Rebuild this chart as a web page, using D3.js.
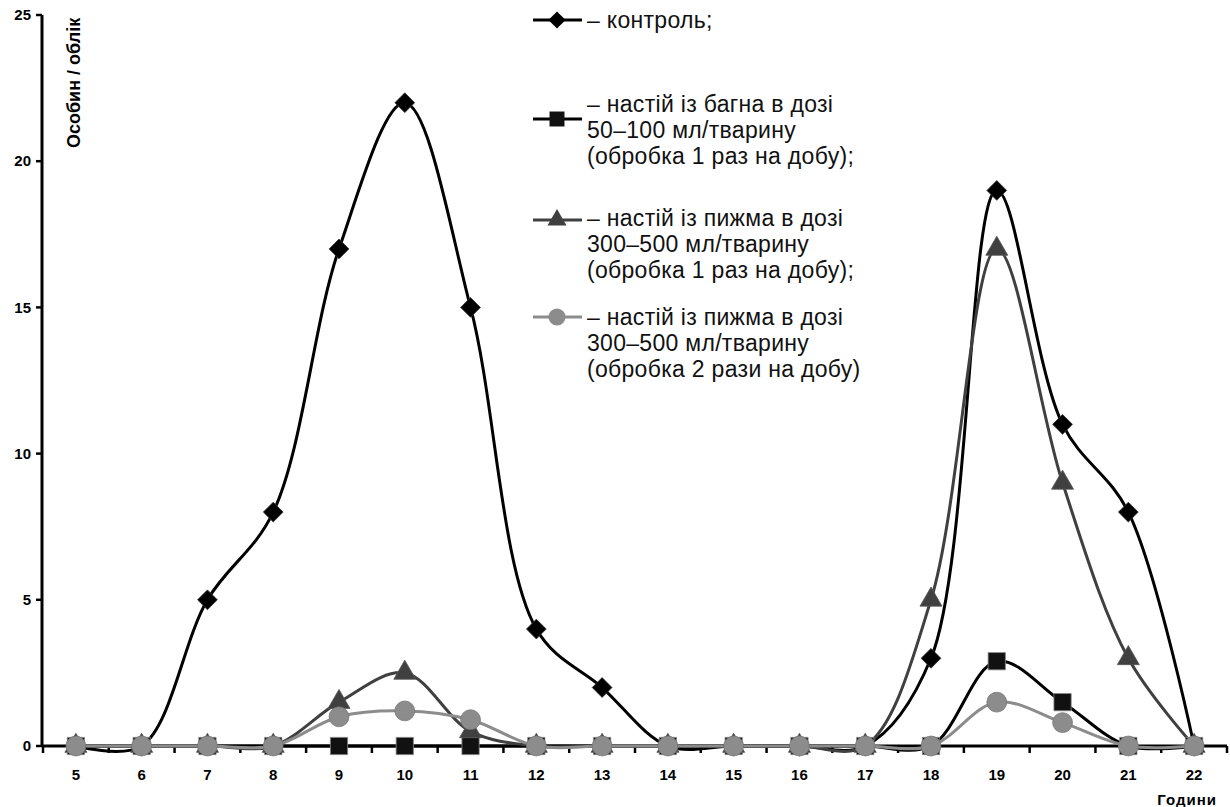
<!DOCTYPE html>
<html>
<head>
<meta charset="utf-8">
<script src="https://cdn.jsdelivr.net/npm/d3@7"></script>
<style>
  body { margin: 0; background: #fff; }
  text { font-family: "Liberation Sans", Arial, sans-serif; }
</style>
</head>
<body>
<script>
// hours on the x axis
let hours = [5, 6, 7, 8, 9, 10, 11, 12, 13, 14, 15, 16, 17, 18, 19, 20, 21, 22];

// individuals per count, one array per group
let control   = [0, 0, 5, 8, 17, 22, 15, 4, 2, 0, 0, 0, 0, 3, 19, 11, 8, 0];
let bagno     = [0, 0, 0, 0, 0, 0, 0, 0, 0, 0, 0, 0, 0, 0, 2.9, 1.5, 0, 0];
let pyzhmoOne = [0, 0, 0, 0, 1.5, 2.5, 0.5, 0, 0, 0, 0, 0, 0, 5, 17, 9, 3, 0];
let pyzhmoTwo = [0, 0, 0, 0, 1, 1.2, 0.9, 0, 0, 0, 0, 0, 0, 0, 1.5, 0.8, 0, 0];

let yTicks = [0, 5, 10, 15, 20, 25];

let legendLines = [
	["– контроль;"],
	["– настій із багна в дозі", "50–100 мл/тварину", "(обробка 1 раз на добу);"],
	["– настій із пижма в дозі", "300–500 мл/тварину", "(обробка 1 раз на добу);"],
	["– настій із пижма в дозі", "300–500 мл/тварину", "(обробка 2 рази на добу)"]
];

let svg = d3.select("body").append("svg")
	.attr("width", 1230)
	.attr("height", 807);

let x = d3.scaleBand()
	.domain(hours)
	.range([43, 1227]);

let y = d3.scaleLinear()
	.domain([0, 25])
	.range([746, 15]);

//series styles: line colour, marker symbol, marker fill
let series = [
	{ values: control,   stroke: "#000",    fill: "#000",    outline: "#333", symbol: d3.symbolDiamond2, size: 250, legendY: 20,  symbolY: 20 },
	{ values: bagno,     stroke: "#000",    fill: "#111",    outline: "#888", symbol: d3.symbolSquare2,  size: 380, legendY: 104, symbolY: 119 },
	{ values: pyzhmoOne, stroke: "#404040", fill: "#404040", outline: "#555", symbol: d3.symbolTriangle, size: 210, legendY: 218, symbolY: 220 },
	{ values: pyzhmoTwo, stroke: "#8c8c8c", fill: "#8c8c8c", outline: "#777", symbol: d3.symbolCircle,   size: 310, legendY: 317, symbolY: 317 }
];

let cx = d => x(d) + x.bandwidth() / 2;

// axes
let xAxisG = svg.append("g");
xAxisG.append("line")
	.attr("x1", 42).attr("x2", 1227)
	.attr("y1", y(0)).attr("y2", y(0))
	.attr("stroke", "#000").attr("stroke-width", 3);

xAxisG.selectAll(".xtick")
	.data(hours.concat([23]))
	.enter().append("line")
	.attr("x1", (d, i) => 43 + i * x.step())
	.attr("x2", (d, i) => 43 + i * x.step())
	.attr("y1", y(0)).attr("y2", y(0) + 7)
	.attr("stroke", "#000").attr("stroke-width", 2.5);

xAxisG.selectAll(".xlabel")
	.data(hours)
	.enter().append("text")
	.attr("x", d => cx(d))
	.attr("y", 780)
	.attr("text-anchor", "middle")
	.attr("font-size", 15)
	.attr("font-weight", "bold")
	.text(d => d);

svg.append("text")
	.attr("x", 1217)
	.attr("y", 805)
	.attr("text-anchor", "end")
	.attr("font-size", 15)
	.attr("font-weight", "bold")
	.attr("letter-spacing", 1)
	.text("Години");

let yAxisG = svg.append("g");
yAxisG.append("line")
	.attr("x1", 42).attr("x2", 42)
	.attr("y1", y(25)).attr("y2", y(0))
	.attr("stroke", "#000").attr("stroke-width", 3);

yAxisG.selectAll(".ytick")
	.data(yTicks)
	.enter().append("line")
	.attr("x1", 36).attr("x2", 42)
	.attr("y1", d => y(d)).attr("y2", d => y(d))
	.attr("stroke", "#000").attr("stroke-width", 2.5);

yAxisG.selectAll(".ylabel")
	.data(yTicks)
	.enter().append("text")
	.attr("x", 31)
	.attr("y", d => y(d))
	.attr("dy", "0.35em")
	.attr("text-anchor", "end")
	.attr("font-size", 15)
	.attr("font-weight", "bold")
	.text(d => d);

svg.append("text")
	.attr("transform", "translate(80, 148) rotate(-90)")
	.attr("font-size", 18)
	.attr("font-weight", "bold")
	.text("Особин / облік");

// smoothed lines like the spreadsheet original
let line = d3.line()
	.x((d, i) => cx(hours[i]))
	.y(d => y(d))
	.curve(d3.curveCatmullRom.alpha(0.5));

series.forEach(s => {
	svg.append("path")
		.attr("d", line(s.values))
		.attr("fill", "none")
		.attr("stroke", s.stroke)
		.attr("stroke-width", 3);
});

series.forEach(s => {
	svg.append("g").selectAll("path")
		.data(s.values)
		.enter().append("path")
		.attr("transform", (d, i) => `translate(${cx(hours[i])}, ${y(d)})`)
		.attr("d", d3.symbol().type(s.symbol).size(s.size))
		.attr("fill", s.fill)
		.attr("stroke", s.outline)
		.attr("stroke-width", 0.8);
});

// legend
let legend = svg.append("g");
series.forEach((s, k) => {
	legend.append("line")
		.attr("x1", 533).attr("x2", 582)
		.attr("y1", s.symbolY).attr("y2", s.symbolY)
		.attr("stroke", s.stroke).attr("stroke-width", 3);
	legend.append("path")
		.attr("transform", `translate(557, ${s.symbolY})`)
		.attr("d", d3.symbol().type(s.symbol).size(s.size * 0.75))
		.attr("fill", s.fill);
	legend.append("g").selectAll("text")
		.data(legendLines[k])
		.enter().append("text")
		.attr("x", 587)
		.attr("y", (d, i) => s.legendY + i * 26)
		.attr("dy", "0.35em")
		.attr("font-size", 23)
		.attr("letter-spacing", 0.3)
		.attr("fill", "#111")
		.text(d => d);
});
</script>
</body>
</html>
